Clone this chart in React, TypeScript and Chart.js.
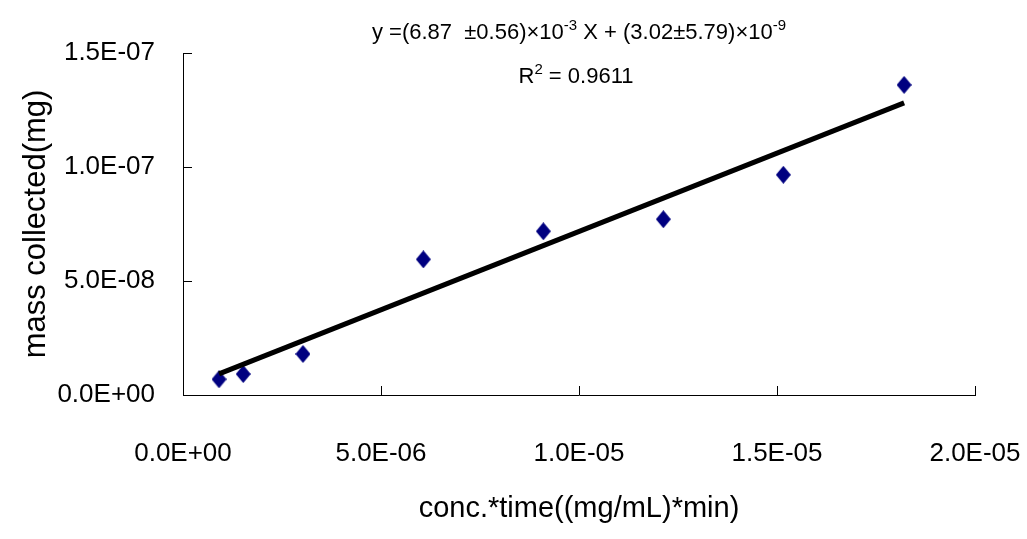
import React, { useEffect, useRef } from "react";
import { Chart, registerables } from "chart.js";

Chart.register(...registerables);

// ---- data ----
const concTime = [0.91e-6, 1.52e-6, 3.03e-6, 6.07e-6, 9.1e-6, 12.13e-6, 15.16e-6, 18.21e-6];
const massCollected = [0.69e-8, 0.92e-8, 1.8e-8, 5.95e-8, 7.18e-8, 7.71e-8, 9.66e-8, 13.6e-8];

const fitSlope = 6.87e-3;
const fitIntercept = 3.02e-9;

const xTickValues = [0, 5e-6, 1e-5, 1.5e-5, 2e-5];
const xTickLabels = ["0.0E+00", "5.0E-06", "1.0E-05", "1.5E-05", "2.0E-05"];
const yTickValues = [0, 5e-8, 1e-7, 1.5e-7];
const yTickLabels = ["0.0E+00", "5.0E-08", "1.0E-07", "1.5E-07"];

const xTitle = "conc.*time((mg/mL)*min)";
const yTitle = "mass collected(mg)";

type Run = { text: string; sup?: boolean };
const equationRuns: Run[] = [
  { text: "y =(6.87  \u00B10.56)\u00D710" },
  { text: "-3", sup: true },
  { text: " X + (3.02\u00B15.79)\u00D710" },
  { text: "-9", sup: true },
];
const r2Runs: Run[] = [
  { text: "R" },
  { text: "2", sup: true },
  { text: " = 0.9611" },
];

const REGULAR = "'Liberation Sans', Arial, sans-serif";

function makeDiamond(): HTMLCanvasElement {
  const c = document.createElement("canvas");
  c.width = 15;
  c.height = 18;
  const g = c.getContext("2d")!;
  g.fillStyle = "#000080";
  g.beginPath();
  g.moveTo(7.5, 0);
  g.lineTo(15, 9);
  g.lineTo(7.5, 18);
  g.lineTo(0, 9);
  g.closePath();
  g.fill();
  return c;
}

function drawRuns(ctx: CanvasRenderingContext2D, runs: Run[], cx: number, baseline: number, size: number) {
  const supSize = Math.round(size * 0.66);
  let total = 0;
  const widths = runs.map((r) => {
    ctx.font = `${r.sup ? supSize : size}px ${REGULAR}`;
    const w = ctx.measureText(r.text).width;
    total += w;
    return w;
  });
  let x = cx - total / 2;
  ctx.textAlign = "left";
  ctx.textBaseline = "alphabetic";
  ctx.fillStyle = "#000";
  runs.forEach((r, i) => {
    ctx.font = `${r.sup ? supSize : size}px ${REGULAR}`;
    ctx.fillText(r.text, x, r.sup ? baseline - size * 0.42 : baseline);
    x += widths[i];
  });
}

const insideTicks = {
  id: "insideTicks",
  afterDatasetsDraw(chart: any) {
    const { ctx, chartArea, scales } = chart;
    ctx.save();
    ctx.strokeStyle = "#000";
    ctx.lineWidth = 1;
    xTickValues.forEach((v) => {
      const px = Math.round(scales.x.getPixelForValue(v)) + 0.5;
      ctx.beginPath();
      ctx.moveTo(px, chartArea.bottom);
      ctx.lineTo(px, chartArea.bottom - 9);
      ctx.stroke();
    });
    yTickValues.forEach((v) => {
      const py = Math.round(scales.y.getPixelForValue(v)) + 0.5;
      ctx.beginPath();
      ctx.moveTo(chartArea.left, py);
      ctx.lineTo(chartArea.left + 9, py);
      ctx.stroke();
    });
    ctx.restore();
  },
};

const annotation = {
  id: "fitAnnotation",
  afterDraw(chart: any) {
    const { ctx, chartArea } = chart;
    const cx = (chartArea.left + chartArea.right) / 2;
    ctx.save();
    drawRuns(ctx, equationRuns, cx, chartArea.top - 14, 22);
    drawRuns(ctx, r2Runs, cx - 3, chartArea.top + 30, 22);
    ctx.restore();
  },
};

export default function App() {
  const ref = useRef<HTMLCanvasElement | null>(null);

  useEffect(() => {
    if (!ref.current) return;
    const points = concTime.map((x, i) => ({ x, y: massCollected[i] }));
    const xStart = concTime[0];
    const xEnd = concTime[concTime.length - 1];
    const fitLine = [
      { x: xStart, y: fitSlope * xStart + fitIntercept },
      { x: xEnd, y: fitSlope * xEnd + fitIntercept },
    ];
    const diamond = makeDiamond();

    const chart = new Chart(ref.current, {
      type: "scatter",
      data: {
        datasets: [
          {
            label: "fit",
            data: fitLine,
            showLine: true,
            borderColor: "#000",
            borderWidth: 5,
            pointRadius: 0,
            fill: false,
          },
          {
            label: "data",
            data: points,
            pointStyle: diamond as any,
            pointRadius: 8,
            backgroundColor: "#000080",
            borderColor: "#000080",
          },
        ],
      },
      plugins: [insideTicks, annotation],
      options: {
        responsive: false,
        animation: false,
        devicePixelRatio: 1,
        layout: { padding: { left: 0, right: 52, top: 53, bottom: 0 } },
        plugins: {
          legend: { display: false },
          tooltip: { enabled: false },
          title: { display: false },
        },
        scales: {
          x: {
            type: "linear",
            min: 0,
            max: 2e-5,
            afterBuildTicks: (s: any) => {
              s.ticks = xTickValues.map((v) => ({ value: v }));
            },
            afterFit: (s: any) => {
              s.height = 144;
              s.paddingLeft = 0;
              s.paddingRight = 0;
            },
            grid: { display: false, drawTicks: false },
            border: { display: true, color: "#000", width: 1 },
            ticks: {
              color: "#000",
              font: { family: REGULAR, size: 26 },
              padding: 43,
              maxRotation: 0,
              autoSkip: false,
              callback: (_v: any, i: number) => xTickLabels[i],
            },
            title: {
              display: true,
              text: xTitle,
              color: "#000",
              font: { family: REGULAR, size: 29 },
              padding: { top: 0, bottom: 13 },
            },
          },
          y: {
            type: "linear",
            min: 0,
            max: 1.5e-7,
            afterBuildTicks: (s: any) => {
              s.ticks = yTickValues.map((v) => ({ value: v }));
            },
            afterFit: (s: any) => {
              s.width = 183;
            },
            grid: { display: false, drawTicks: false },
            border: { display: true, color: "#000", width: 1 },
            ticks: {
              color: "#000",
              font: { family: REGULAR, size: 26 },
              padding: 28,
              autoSkip: false,
              callback: (_v: any, i: number) => yTickLabels[i],
            },
            title: {
              display: true,
              text: yTitle,
              color: "#000",
              font: { family: REGULAR, size: 31 },
              padding: { top: 18, bottom: 0 },
            },
          },
        },
      },
    });
    return () => chart.destroy();
  }, []);

  return (
    <div style={{ position: "fixed", left: 0, top: 0, width: 1027, height: 539, background: "#fff" }}>
      <canvas ref={ref} width={1027} height={539} style={{ display: "block" }} />
    </div>
  );
}
